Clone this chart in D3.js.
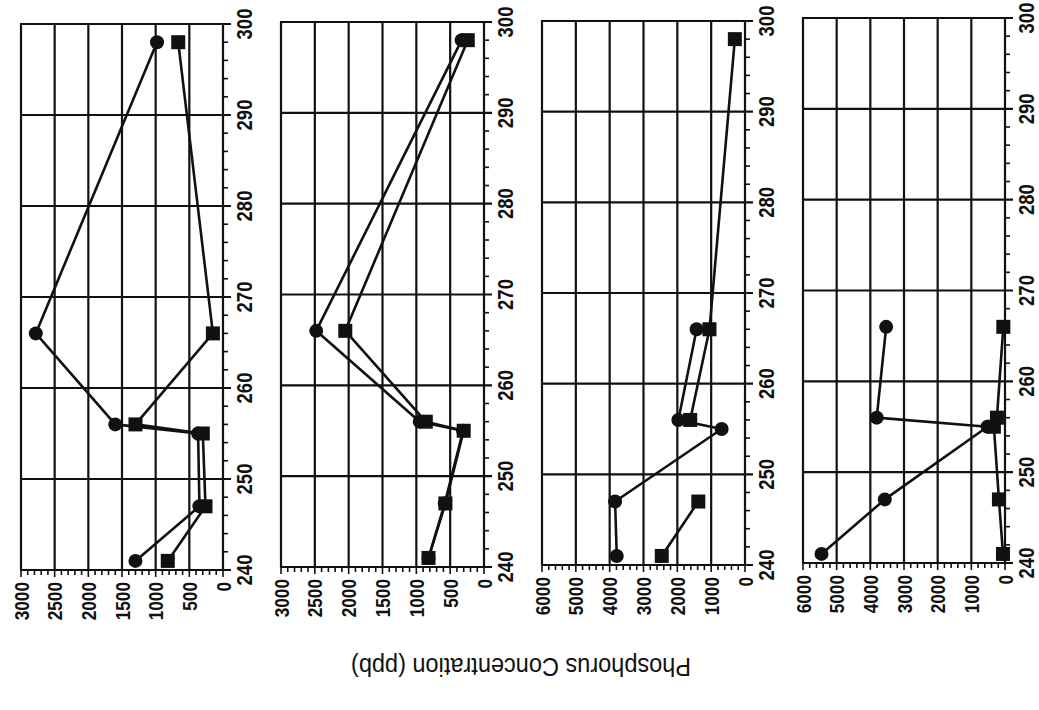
<!DOCTYPE html>
<html>
<head>
<meta charset="utf-8">
<script src="https://cdn.jsdelivr.net/npm/d3@7"></script>
<style>
  html, body { margin: 0; padding: 0; background: #fff; }
  svg { display: block; }
  text { fill: #111; }
</style>
</head>
<body>
<svg id="chart" width="1039" height="710"></svg>
<script>
// ---------------- data ----------------
const days = [241, 247, 255, 256, 266, 298];
const dayTicks = [240, 250, 260, 270, 280, 290, 300];
const titleText = "Phosphorus Concentration (ppb)";

const p1Circle = [1300, 350, 370, 1600, 2780, 980];
const p1Square = [820, 260, 300, 1300, 150, 665];
const p2Circle = [820, 580, 310, 950, 2480, 330];
const p2Square = [820, 570, 300, 860, 2050, 240];
const p3Circle = [3790, 3840, 690, 1970, 1430, null];
const p3Square = [2460, 1380, null, 1620, 1050, 300];
const p4Circle = [5450, 3570, 520, 3810, 3530, null];
const p4Square = [60, 180, 330, 240, 50, null];

const concTicks3000 = [0, 500, 1000, 1500, 2000, 2500, 3000];
const concTicks6000 = [0, 1000, 2000, 3000, 4000, 5000, 6000];

// ---------------- layout (image is the page turned on its side) ----------------
const panels = [
  { circle: p1Circle, square: p1Square, max: 3000, ticks: concTicks3000, minor: 100, xr: [223, 21],  yr: [570, 24] },
  { circle: p2Circle, square: p2Square, max: 3000, ticks: concTicks3000, minor: 100, xr: [484, 281], yr: [567, 22] },
  { circle: p3Circle, square: p3Square, max: 6000, ticks: concTicks6000, minor: 200, xr: [745, 542], yr: [565, 21] },
  { circle: p4Circle, square: p4Square, max: 6000, ticks: concTicks6000, minor: 200, xr: [1005, 803], yr: [563, 18] }
];

const INK = "#111";
const FONT = "'Liberation Sans',Arial,Helvetica,sans-serif";
const svg = d3.select("#chart");

panels.forEach(p => {
  const x = d3.scaleLinear().domain([0, p.max]).range(p.xr);      // concentration
  const y = d3.scaleLinear().domain([240, 300]).range(p.yr);      // day
  const g = svg.append("g");

  // vertical grid (concentration)
  g.selectAll("line.vg").data(p.ticks).join("line")
    .attr("x1", d => x(d)).attr("x2", d => x(d))
    .attr("y1", y(300)).attr("y2", y(240))
    .attr("stroke", INK).attr("stroke-width", 2.2);

  // horizontal grid (day), extending out past the right edge as major ticks
  g.selectAll("line.hg").data(dayTicks).join("line")
    .attr("x1", x(p.max) - 1).attr("x2", x(0) + 8)
    .attr("y1", d => y(d)).attr("y2", d => y(d))
    .attr("stroke", INK).attr("stroke-width", 2.2);

  // day axis minor ticks (right side)
  const dayMinor = d3.range(240, 301, 2).filter(d => d % 10 !== 0);
  g.selectAll("line.dm").data(dayMinor).join("line")
    .attr("x1", x(0)).attr("x2", x(0) + 5)
    .attr("y1", d => y(d)).attr("y2", d => y(d))
    .attr("stroke", INK).attr("stroke-width", 1.6);

  // day labels
  g.selectAll("text.dl").data(dayTicks).join("text")
    .attr("transform", d => `translate(${x(0) + 21},${y(d)}) rotate(-90) scale(0.84,1)`)
    .attr("text-anchor", "middle").attr("dy", "0.36em")
    .attr("font-family", FONT).attr("font-weight", "bold").attr("font-size", 22)
    .text(d => d);

  // concentration axis: major + minor ticks below
  const concMinor = d3.range(0, p.max + 1, p.minor);
  g.selectAll("line.cm").data(concMinor).join("line")
    .attr("x1", d => x(d)).attr("x2", d => x(d))
    .attr("y1", y(240)).attr("y2", d => y(240) + (p.ticks.includes(d) ? 7 : 5))
    .attr("stroke", INK).attr("stroke-width", 1.6);

  // concentration labels
  g.selectAll("text.cl").data(p.ticks).join("text")
    .attr("transform", d => `translate(${x(d)},${y(240) + 12}) rotate(-90) scale(0.82,1)`)
    .attr("text-anchor", "end").attr("dy", "0.36em")
    .attr("font-family", FONT).attr("font-weight", "bold").attr("font-size", 21)
    .text(d => d);

  // series lines
  const line = d3.line()
    .defined(d => d[1] !== null)
    .x(d => x(d[1])).y(d => y(d[0]));
  [p.circle, p.square].forEach(vals => {
    g.append("path")
      .datum(days.map((d, i) => [d, vals[i]]))
      .attr("d", line)
      .attr("fill", "none").attr("stroke", INK).attr("stroke-width", 2.6)
      .attr("stroke-linejoin", "round");
  });

  // markers
  const sq = days.map((d, i) => [d, p.square[i]]).filter(d => d[1] !== null);
  g.selectAll("rect.sq").data(sq).join("rect")
    .attr("x", d => x(d[1]) - 7).attr("y", d => y(d[0]) - 7)
    .attr("width", 14).attr("height", 14).attr("fill", INK);
  const ci = days.map((d, i) => [d, p.circle[i]]).filter(d => d[1] !== null);
  g.selectAll("circle.ci").data(ci).join("circle")
    .attr("cx", d => x(d[1])).attr("cy", d => y(d[0]))
    .attr("r", 7).attr("fill", INK);
});

// shared axis title (upside down in this orientation)
svg.append("text")
  .attr("transform", "translate(521,667) rotate(180)")
  .attr("text-anchor", "middle").attr("dy", "0.35em")
  .attr("font-family", FONT).attr("font-size", 25)
  .attr("textLength", 340).attr("lengthAdjust", "spacingAndGlyphs")
  .text(titleText);
</script>
</body>
</html>
